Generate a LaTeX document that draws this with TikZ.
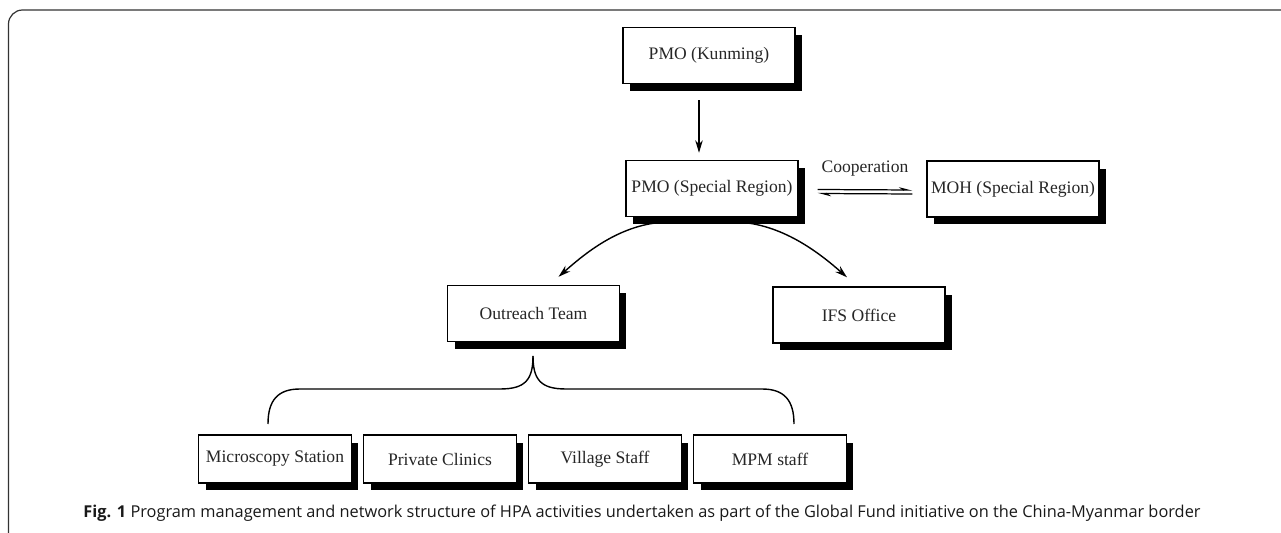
\documentclass[tikz,border=0pt]{standalone}
\usepackage{fontspec}
\setmainfont{Liberation Serif}
\newfontfamily\capfont{Open Sans}
\usetikzlibrary{arrows.meta, shadows, calc, positioning}

\begin{document}
\begin{tikzpicture}[x=0.02cm, y=-0.02cm,
    orgbox/.style={draw, thick, fill=white, inner xsep=2pt,
      minimum width=3.44cm, minimum height=1.12cm,
      font=\fontsize{10}{12}\selectfont, text=black!85,
      drop shadow={shadow xshift=0.14cm, shadow yshift=-0.15cm, fill=black, opacity=1}},
    staffbox/.style={orgbox, minimum width=3.06cm, minimum height=0.96cm},
    arr/.style={-{Stealth[length=2.5mm, width=1.5mm]}, line width=0.8pt},
    coop/.style={-{Stealth[harpoon, length=2.2mm, width=1.1mm]}, line width=0.7pt}]
  \useasboundingbox (0,0) rectangle (1281,533);
  % frame round the figure
  \draw[black!80, line width=0.7pt, rounded corners=8] (8.5,560) -- (8.5,10) -- (1300,10);

  % management levels
  \node[orgbox] (kun) at (709,55.5) {PMO (Kunming)};
  \node[orgbox] (psr) at (712,188.5) {PMO (Special Region)};
  \node[orgbox] (moh) at (1013,189) {MOH (Special Region)};
  \node[orgbox] (out) at (533.5,313.5) {Outreach Team};
  \node[orgbox] (ifs) at (859,315) {IFS Office};

  % network
  \node[staffbox] (mic) at (275,459) {Microscopy Station};
  \node[staffbox] (pri) at (440,459) {Private Clinics};
  \node[staffbox] (vil) at (605,459) {Village Staff};
  \node[staffbox] (mpm) at (770,459) {MPM staff};

  \draw[arr] ($(kun.south)+(-10,16)$) -- ($(psr.north)+(-13,-7)$);

  \draw[coop] ($(psr.east)+(19,1)$) -- ($(moh.west)+(-14,1)$)
    node[midway, above=4pt, font=\fontsize{10}{12}\selectfont, text=black!85] (coo) {Cooperation};
  \draw[coop] ($(moh.west)+(-14,5)$) -- ($(psr.east)+(19,5)$);

  \draw[arr] ($(psr.south)+(-49,5)$) .. controls +(-45,3) and +(25,-22) .. ($(out.north)+(25,-8)$);
  \draw[arr] ($(psr.south)+(28,5)$) .. controls +(45,3) and +(-25,-22) .. ($(ifs.north)+(-12,-9)$);

  % brace under the outreach team
  \draw[line width=0.8pt] (533,356) .. controls (533,380) and (525,389) .. (500,389) -- (300,389)
    .. controls (278,389) and (268,400) .. (268,424);
  \draw[line width=0.8pt] (533,356) .. controls (533,380) and (541,389) .. (566,389) -- (762,389)
    .. controls (784,389) and (794,400) .. (794,424);

  \node[font=\capfont\fontsize{9.3}{11}\selectfont, text=black!90] (cap) at (642,513)
    {\textbf{Fig. 1} Program management and network structure of HPA activities undertaken as part of the Global Fund initiative on the China-Myanmar border};
\end{tikzpicture}
\end{document}
